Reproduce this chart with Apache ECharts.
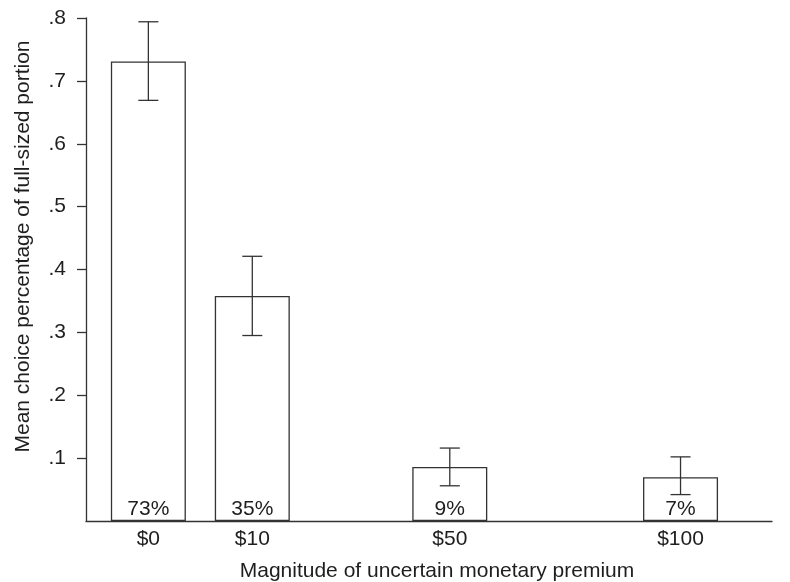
<!DOCTYPE html>
<html>
<head>
<meta charset="utf-8">
<script src="https://cdn.jsdelivr.net/npm/echarts@6/dist/echarts.min.js"></script>
<style>html,body{margin:0;padding:0;background:#fff}#c{width:790px;height:582px}</style>
</head>
<body>
<div id="c"></div>
<script>
var categories = ['$0', '$10', '$50', '$100'];
var slotPositions = [1, 2, 3.9, 6.12];
var means = [0.731, 0.358, 0.086, 0.0695];
var ciLow = [0.669, 0.295, 0.056, 0.042];
var ciHigh = [0.794, 0.421, 0.116, 0.102];
var pctLabels = ['73%', '35%', '9%', '7%'];
var yTicks = [0.1, 0.2, 0.3, 0.4, 0.5, 0.6, 0.7, 0.8];

var FONT = 'Liberation Sans, Arial, Helvetica, sans-serif';
var LINE = '#333333';
var TXT = '#1e1e1e';
var FS = 21;

var barData = means.map(function (m, i) { return [slotPositions[i], m]; });
var errData = means.map(function (m, i) { return [slotPositions[i], ciLow[i], ciHigh[i]]; });

var chart = echarts.init(document.getElementById('c'), null, {renderer: 'canvas'});
chart.setOption({
  animation: false,
  backgroundColor: '#fff',
  grid: {left: 86, right: 18, top: 18, bottom: 61, containLabel: false, outerBoundsMode: 'none'},
  xAxis: {
    type: 'value', min: 0.4, max: 7,
    name: 'Magnitude of uncertain monetary premium',
    nameLocation: 'middle', nameGap: 40,
    nameTextStyle: {fontFamily: FONT, fontSize: FS, color: TXT, padding: [0, 0, 0, 16]},
    axisLine: {show: true, lineStyle: {color: LINE, width: 1.3}},
    axisTick: {show: false},
    splitLine: {show: false},
    axisLabel: {
      customValues: slotPositions,
      fontFamily: FONT, fontSize: FS, color: TXT, margin: 8,
      formatter: function (v) {
        var idx = slotPositions.indexOf(v);
        return idx >= 0 ? categories[idx] : '';
      }
    }
  },
  yAxis: {
    type: 'value', min: 0, max: 0.8, interval: 0.1,
    name: 'Mean choice percentage of full-sized portion',
    nameLocation: 'middle', nameGap: 52,
    nameTextStyle: {fontFamily: FONT, fontSize: FS, color: TXT, padding: [0, 0, 0, 46]},
    axisLine: {show: true, lineStyle: {color: LINE, width: 1.3}},
    axisTick: {show: true, length: 9, customValues: yTicks, lineStyle: {color: LINE, width: 1.3}},
    splitLine: {show: false},
    axisLabel: {
      customValues: yTicks,
      fontFamily: FONT, fontSize: FS, color: TXT, margin: 20,
      formatter: function (v) {
        return String(Math.round(v * 10) / 10).replace(/^0/, '');
      }
    }
  },
  series: [
    {
      type: 'bar',
      data: barData,
      barWidth: 75,
      itemStyle: {color: '#fff', borderColor: LINE, borderWidth: 1.3},
      label: {
        show: true, position: 'insideBottom', distance: 1,
        fontFamily: FONT, fontSize: FS, color: TXT,
        formatter: function (p) { return pctLabels[p.dataIndex]; }
      },
      z: 2
    },
    {
      type: 'custom',
      data: errData,
      z: 5,
      renderItem: function (params, api) {
        var x = api.value(0);
        var lo = api.coord([x, api.value(1)]);
        var hi = api.coord([x, api.value(2)]);
        var half = 10;
        var st = {stroke: LINE, lineWidth: 1.3, fill: null};
        return {
          type: 'group',
          children: [
            {type: 'line', shape: {x1: lo[0], y1: lo[1], x2: hi[0], y2: hi[1]}, style: st},
            {type: 'line', shape: {x1: lo[0] - half, y1: lo[1], x2: lo[0] + half, y2: lo[1]}, style: st},
            {type: 'line', shape: {x1: hi[0] - half, y1: hi[1], x2: hi[0] + half, y2: hi[1]}, style: st}
          ]
        };
      }
    }
  ]
});
</script>
</body>
</html>
